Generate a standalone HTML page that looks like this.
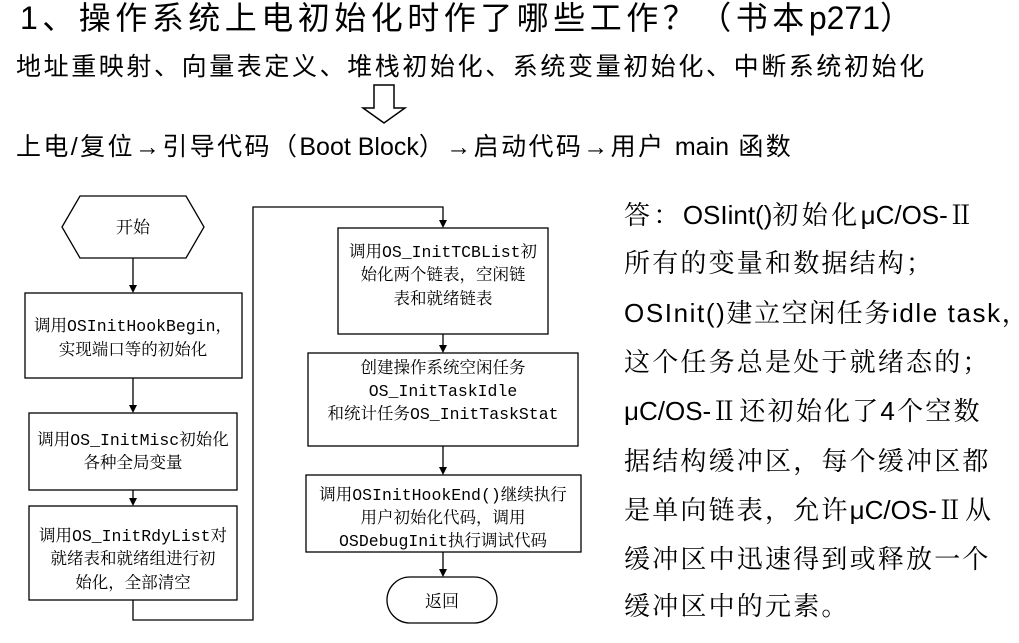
<!DOCTYPE html>
<html><head><meta charset="utf-8"><style>
body{margin:0;width:1019px;height:643px;background:#fff;position:relative;overflow:hidden;font-family:"Liberation Sans","Noto Sans CJK SC",sans-serif;color:#000}
.t{position:absolute;white-space:nowrap;line-height:1}
.l{letter-spacing:0}
.r{position:absolute;left:624px;font-size:26px;letter-spacing:2.2px;white-space:nowrap;line-height:1;font-family:"Liberation Sans","Noto Serif CJK SC",sans-serif}
svg text{font-family:"Liberation Mono","Noto Serif CJK SC",monospace;font-size:16.5px}
</style></head><body>
<div class="t" style="left:20px;top:2px;font-size:32px;letter-spacing:4.5px;">1、操作系统上电初始化时作了哪些工作？（书本<span class="l">p271</span>）</div>
<div class="t" style="left:16px;top:55px;font-size:25px;letter-spacing:2.6px;">地址重映射、向量表定义、堆栈初始化、系统变量初始化、中断系统初始化</div>
<svg style="position:absolute;left:0;top:0" width="1019" height="643">
<polygon points="374,85 394,85 394,108 405,108 384,123 363,108 374,108" fill="#fff" stroke="#000" stroke-width="1.5"/>
<g stroke="#000" stroke-width="1.3" fill="none">
<polygon points="62,227 80,196 186,196 204,227 186,258 80,258" fill="#fff"/>
<rect x="25" y="293" width="217" height="85"/>
<rect x="29" y="413" width="208" height="77"/>
<rect x="29" y="506" width="208" height="94"/>
<rect x="338" y="228" width="210" height="106"/>
<rect x="308" y="353" width="270" height="93"/>
<rect x="306" y="475" width="275" height="77"/>
<rect x="387" y="577" width="110" height="46" rx="23"/>
<path d="M133 258V287 M133 378V407 M133 490V500 M133 600V620H253V207H443V222 M443 334V347 M443 446V469 M443 552V571"/>
</g>
<g fill="#000">
<polygon points="129,285 137,285 133,293"/>
<polygon points="129,405 137,405 133,413"/>
<polygon points="129,498 137,498 133,506"/>
<polygon points="439,220 447,220 443,228"/>
<polygon points="439,345 447,345 443,353"/>
<polygon points="439,467 447,467 443,475"/>
<polygon points="439,569 447,569 443,577"/>
</g>
<g text-anchor="middle">
<text x="133" y="233" style="font-size:17px">开始</text>
<text x="133" y="331">调用OSInitHookBegin，</text>
<text x="133" y="355">实现端口等的初始化</text>
<text x="133" y="445">调用OS_InitMisc初始化</text>
<text x="133" y="468">各种全局变量</text>
<text x="133" y="541">调用OS_InitRdyList对</text>
<text x="133" y="564">就绪表和就绪组进行初</text>
<text x="133" y="588">始化，全部清空</text>
<text x="443" y="257">调用OS_InitTCBList初</text>
<text x="443" y="280">始化两个链表，空闲链</text>
<text x="443" y="304">表和就绪链表</text>
<text x="443" y="373">创建操作系统空闲任务</text>
<text x="443" y="396">OS_InitTaskIdle</text>
<text x="443" y="419">和统计任务OS_InitTaskStat</text>
<text x="443" y="500">调用OSInitHookEnd()继续执行</text>
<text x="443" y="523">用户初始化代码，调用</text>
<text x="443" y="546">OSDebugInit执行调试代码</text>
<text x="442" y="607" style="font-size:17px">返回</text>
</g>
</svg>
<div class="t" style="left:16px;top:135px;font-size:25px;letter-spacing:2.4px;">上电/复位→引导代码（<span class="l">Boot Block</span>）→启动代码→用户 <span class="l">main</span> 函数</div>
<div class="r" style="top:202px;letter-spacing:3.4px">答：<span class="l">OSIint()</span>初始化<span class="l">μC/OS-</span>Ⅱ</div>
<div class="r" style="top:250px">所有的变量和数据结构；</div>
<div class="r" style="top:300px;letter-spacing:1.6px">OSInit()建立空闲任务idle task，</div>
<div class="r" style="top:349px">这个任务总是处于就绪态的；</div>
<div class="r" style="top:398px"><span class="l">μC/OS-</span>Ⅱ还初始化了4个空数</div>
<div class="r" style="top:448px">据结构缓冲区，每个缓冲区都</div>
<div class="r" style="top:497px">是单向链表，允许<span class="l">μC/OS-</span>Ⅱ从</div>
<div class="r" style="top:546px">缓冲区中迅速得到或释放一个</div>
<div class="r" style="top:593px">缓冲区中的元素。</div>
</body></html>
